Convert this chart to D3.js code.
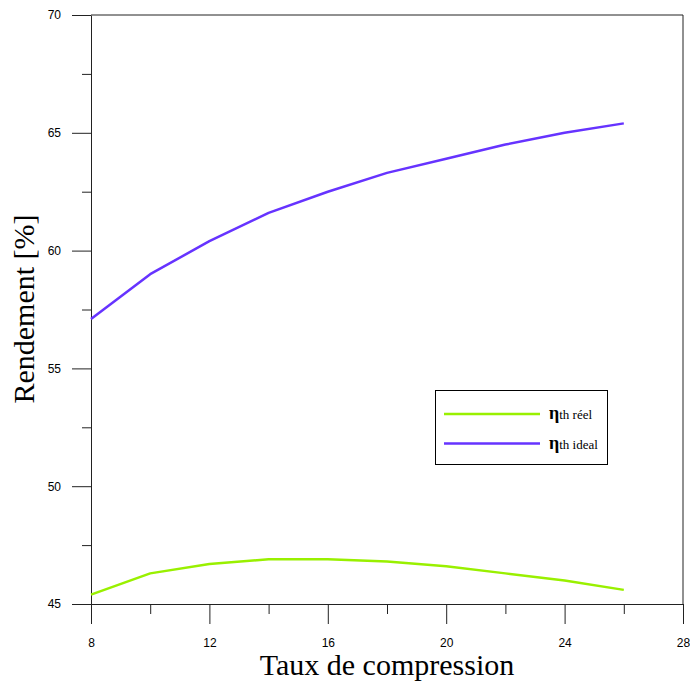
<!DOCTYPE html>
<html>
<head>
<meta charset="utf-8">
<script src="https://cdn.jsdelivr.net/npm/d3@7"></script>
<style>
  html, body { margin: 0; padding: 0; background: #fff; }
  svg { display: block; }
</style>
</head>
<body>
<svg id="chart" width="690" height="681"></svg>
<script>
// Compression ratio (x) and thermal efficiencies in %
const compressionRatio = [8, 10, 12, 14, 16, 18, 20, 22, 24, 26];
const etaReel  = [45.4, 46.3, 46.7, 46.9, 46.9, 46.8, 46.6, 46.3, 46.0, 45.6];
const etaIdeal = [57.1, 59.0, 60.4, 61.6, 62.5, 63.3, 63.9, 64.5, 65.0, 65.4];

const xMajorTicks = [8, 12, 16, 20, 24, 28];
const xMinorTicks = [10, 14, 18, 22, 26];
const yMajorTicks = [45, 50, 55, 60, 65, 70];
const yMinorTicks = [47.5, 52.5, 57.5, 62.5, 67.5];

const seriesNames = ["th réel", "th ideal"];
const seriesColors = ["#99f000", "#6633ff"];

const svg = d3.select("#chart");
const plot = { left: 91, right: 683, top: 15, bottom: 604 };

const x = d3.scaleLinear().domain([8, 28]).range([plot.left, plot.right]);
const y = d3.scaleLinear().domain([45, 70]).range([plot.bottom, plot.top]);

const axisColor = "#222";

// frame: top and right borders
svg.append("line").attr("x1", plot.left).attr("x2", plot.right).attr("y1", plot.top).attr("y2", plot.top)
  .attr("stroke", axisColor).attr("stroke-width", 1);
svg.append("line").attr("x1", plot.right).attr("x2", plot.right).attr("y1", plot.top).attr("y2", plot.bottom)
  .attr("stroke", axisColor).attr("stroke-width", 1);

// bottom axis: major ticks with labels, minor ticks without
svg.append("g").attr("transform", `translate(0,${plot.bottom})`)
  .call(d3.axisBottom(x).tickValues(xMajorTicks).tickSize(20).tickPadding(14).tickSizeOuter(0));
svg.append("g").attr("transform", `translate(0,${plot.bottom})`)
  .call(d3.axisBottom(x).tickValues(xMinorTicks).tickSize(10).tickFormat("").tickSizeOuter(0))
  .select(".domain").remove();

// left axis
svg.append("g").attr("transform", `translate(${plot.left},0)`)
  .call(d3.axisLeft(y).tickValues(yMajorTicks).tickSize(19).tickPadding(11).tickSizeOuter(0));
svg.append("g").attr("transform", `translate(${plot.left},0)`)
  .call(d3.axisLeft(y).tickValues(yMinorTicks).tickSize(9).tickFormat("").tickSizeOuter(0))
  .select(".domain").remove();

svg.selectAll(".domain, .tick line").attr("stroke", axisColor).attr("stroke-width", 1);
svg.selectAll(".tick text")
  .attr("font-family", "Liberation Sans, Arial, sans-serif")
  .attr("font-size", 12).attr("fill", "#000");

// axis titles
svg.append("text")
  .attr("x", 387).attr("y", 675)
  .attr("text-anchor", "middle")
  .attr("font-family", "Liberation Serif, Times New Roman, serif")
  .attr("font-size", 30).attr("fill", "#000")
  .text("Taux de compression");

svg.append("text")
  .attr("transform", `translate(34,309) rotate(-90)`)
  .attr("text-anchor", "middle")
  .attr("font-family", "Liberation Serif, Times New Roman, serif")
  .attr("font-size", 30).attr("fill", "#000")
  .text("Rendement [%]");

// series lines
const line = d3.line()
  .x((d, i) => x(compressionRatio[i]))
  .y(d => y(d));

[etaReel, etaIdeal].forEach((vals, k) => {
  svg.append("path")
    .datum(vals)
    .attr("d", line)
    .attr("fill", "none")
    .attr("stroke", seriesColors[k])
    .attr("stroke-width", 2.5)
    .attr("stroke-linejoin", "round");
});

// legend
const lg = svg.append("g");
lg.append("rect").attr("x", 435.5).attr("y", 390.5).attr("width", 172).attr("height", 74)
  .attr("fill", "#fff").attr("stroke", "#000").attr("stroke-width", 1);
seriesNames.forEach((name, k) => {
  const yy = 414 + k * 29.5;
  lg.append("line").attr("x1", 444).attr("x2", 540).attr("y1", yy).attr("y2", yy)
    .attr("stroke", seriesColors[k]).attr("stroke-width", 2.5);
  const t = lg.append("text").attr("x", 549).attr("y", yy + 5)
    .attr("font-family", "Liberation Serif, Times New Roman, serif")
    .attr("fill", "#000");
  t.append("tspan").attr("font-size", 18).attr("font-weight", "bold").text("η");
  t.append("tspan").attr("font-size", 13).text(name);
});
</script>
</body>
</html>
